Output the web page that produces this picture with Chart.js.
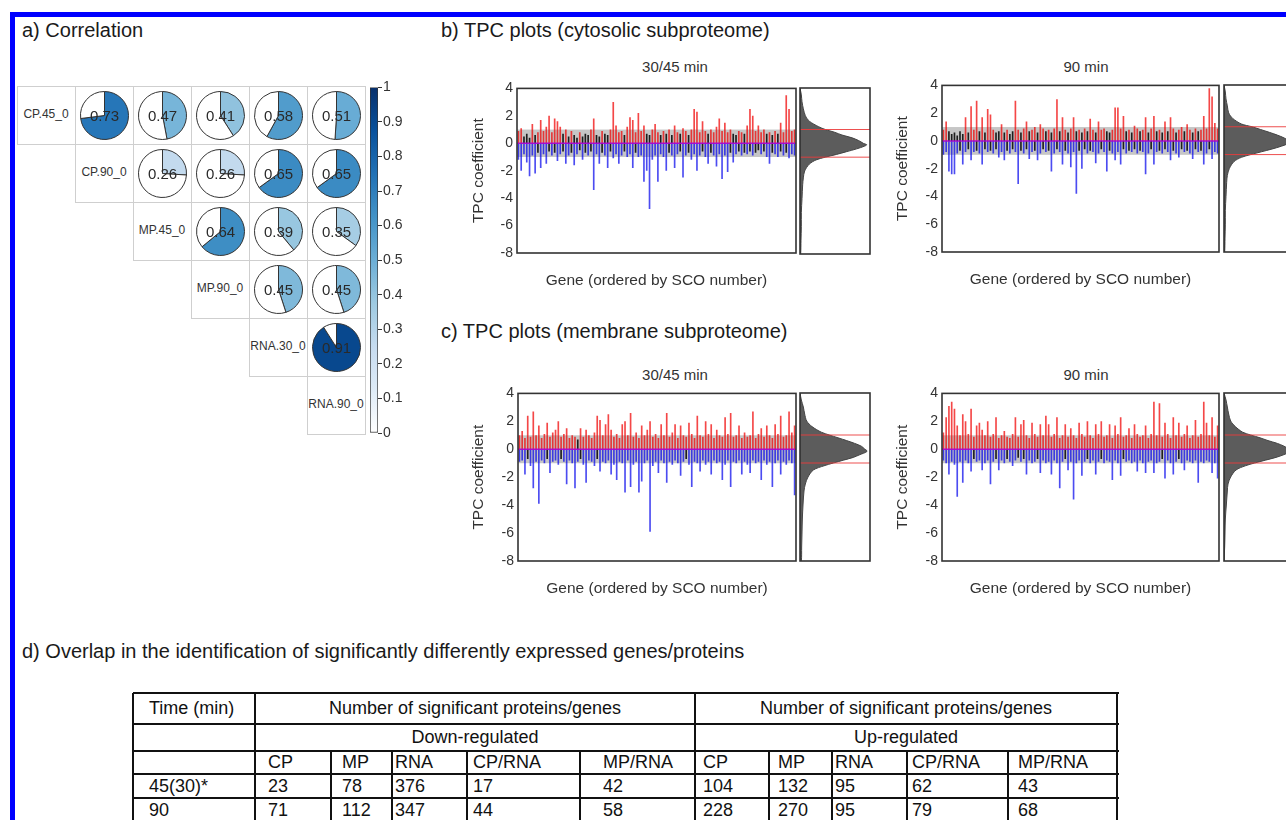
<!DOCTYPE html>
<html>
<head>
<meta charset="utf-8">
<script src="https://cdn.jsdelivr.net/npm/chart.js@4.4.1/dist/chart.umd.min.js"></script>
<style>
  html, body { margin: 0; padding: 0; background: #fff; }
  body { width: 1286px; height: 820px; overflow: hidden; position: relative;
         font-family: "Liberation Sans", Arial, sans-serif; color: #1a1a1a; }
  .frame { position: absolute; left: 10px; top: 12px; width: 1300px; height: 840px;
           border-top: 5px solid #0000ff; border-left: 5px solid #0000ff; }
  .ptitle { position: absolute; font-size: 20px; line-height: 20px; white-space: nowrap; }
  .sub { position: absolute; font-size: 15px; line-height: 16px; white-space: nowrap; color: #333;
         transform: translateX(-50%); }
  .cell { position: absolute; width: 59px; height: 59px; box-sizing: border-box; border: 1px solid #cfcfcf; }
  .diag { position: absolute; width: 58px; font-size: 12px; text-align: center; color: #333; white-space: nowrap; }
  .tl { position: absolute; background: #111; }
  .tt { position: absolute; font-size: 18px; white-space: nowrap; color: #111; }
  canvas { position: absolute; }
</style>
</head>
<body>
<div class="frame"></div>
<div class="ptitle" style="left:22px;top:20px">a) Correlation</div>
<div class="ptitle" style="left:441px;top:20px">b) TPC plots (cytosolic subproteome)</div>
<div class="ptitle" style="left:441px;top:321px">c) TPC plots (membrane subproteome)</div>
<div class="ptitle" style="left:22px;top:641px">d) Overlap in the identification of significantly differently expressed genes/proteins</div>

<script>
// ---- a) correlation matrix ----
const corrLabels = ["CP.45_0", "CP.90_0", "MP.45_0", "MP.90_0", "RNA.30_0", "RNA.90_0"];
const corrRows = [
  [0.73, 0.47, 0.41, 0.58, 0.51],
  [0.26, 0.26, 0.65, 0.65],
  [0.64, 0.39, 0.35],
  [0.45, 0.45],
  [0.91]
];
const colorbarStep = 0.1;

// ---- b) / c) TPC coefficients (one up and one down bar per gene block) ----
const cytoUp45 = [0.9,1.1,0.5,0.7,0.4,1.4,0.6,0.8,1.7,0.9, 1.2,2.0,0.8,1.8,1.6,1.2,0.7,1.0,0.5,0.9,
  0.6,0.4,0.8,0.5,0.7,0.6,1.0,1.8,0.6,0.5, 0.9,0.7,0.6,1.0,3.0,1.3,0.8,0.9,0.6,1.2,
  1.9,1.7,0.8,2.2,0.9,1.3,0.7,0.6,1.0,1.4, 0.8,0.6,0.9,0.7,1.0,0.6,1.3,0.8,0.7,1.1,
  0.9,0.6,1.0,2.5,2.3,0.8,1.6,0.9,0.7,1.0, 0.8,1.2,1.8,0.9,1.5,0.8,1.0,0.7,0.6,0.9,
  0.8,0.7,1.3,2.5,2.0,0.9,1.3,0.8,1.0,0.7, 0.8,0.6,0.9,0.7,1.5,0.8,3.5,2.5,0.9,1.0];
const cytoDown45 = [-1.2,-2.0,-0.8,-1.4,-2.4,-0.9,-2.2,-0.7,-1.8,-0.8, -1.5,-0.6,-0.9,-0.7,-1.3,-0.8,-0.6,-1.5,-0.9,-0.7,
  -1.6,-0.8,-0.5,-1.2,-0.7,-0.9,-0.6,-3.4,-0.8,-1.5, -0.7,-0.9,-1.8,-0.6,-1.1,-0.8,-1.5,-0.9,-0.6,-1.0,
  -0.8,-1.8,-0.7,-1.0,-0.9,-2.8,-2.0,-4.8,-1.2,-0.9, -2.8,-0.8,-1.0,-2.0,-0.7,-0.9,-1.8,-0.8,-0.6,-2.5,
  -0.9,-0.7,-1.2,-0.8,-2.0,-0.9,-0.6,-1.0,-1.5,-0.7, -0.9,-1.7,-0.8,-2.6,-0.9,-2.1,-0.7,-1.4,-0.8,-0.6,
  -0.9,-0.7,-0.8,-0.6,-0.9,-0.7,-0.5,-0.8,-0.6,-1.0, -1.5,-0.7,-0.8,-1.0,-0.6,-0.9,-0.7,-1.1,-0.8,-0.9];
const cytoUp90 = [0.8,1.4,0.7,0.5,0.6,0.4,0.7,0.5,1.7,0.6, 2.5,0.8,2.9,0.7,1.7,0.6,2.3,1.9,0.8,0.6,
  0.7,1.2,0.6,0.8,0.5,0.7,2.9,0.8,0.6,0.9, 1.4,0.7,0.8,1.0,0.6,1.2,0.9,0.7,0.8,0.6,
  0.9,3.0,0.7,1.7,0.8,0.6,0.9,1.7,0.7,0.8, 0.6,0.9,0.7,1.6,0.8,0.6,1.4,0.8,0.9,0.7,
  0.6,0.8,2.4,2.4,0.9,1.8,0.7,0.8,0.6,1.1, 0.9,0.7,0.8,1.7,0.6,0.9,1.8,0.7,0.8,0.6,
  1.4,0.7,1.7,0.9,0.6,0.8,1.0,0.7,1.2,0.8, 0.6,0.9,0.7,0.8,1.8,0.9,3.8,3.2,1.3,0.9];
const cytoDown90 = [-1.0,-0.8,-2.2,-2.4,-2.4,-0.9,-0.7,-1.7,-0.8,-0.6, -1.4,-0.8,-0.7,-0.9,-1.7,-0.6,-0.8,-0.7,-0.9,-0.6,
  -1.2,-0.8,-1.4,-0.7,-0.9,-0.6,-0.8,-3.1,-0.7,-0.9, -0.6,-1.3,-0.8,-0.7,-1.4,-0.9,-0.6,-0.8,-0.7,-2.2,
  -0.9,-0.6,-0.8,-1.7,-0.7,-0.9,-1.9,-0.8,-3.8,-0.7, -2.0,-0.6,-0.9,-0.7,-0.8,-1.6,-0.9,-0.6,-0.8,-2.2,
  -0.7,-0.9,-1.4,-0.8,-1.7,-0.6,-0.9,-0.7,-0.8,-0.6, -0.9,-0.7,-0.8,-2.4,-0.9,-0.6,-1.7,-0.8,-0.7,-0.9,
  -0.6,-0.8,-1.4,-0.7,-0.9,-1.2,-0.6,-0.8,-0.7,-0.9, -1.3,-0.6,-0.8,-0.7,-1.7,-0.9,-0.6,-1.3,-0.8,-0.9];
const membUp45 = [1.0,1.3,0.8,2.4,0.9,2.7,1.0,1.7,0.8,1.1, 1.9,0.9,1.2,1.4,2.0,0.9,1.1,1.5,0.8,1.0,
  0.9,0.7,1.5,0.9,1.4,1.0,0.8,1.2,2.4,2.1, 1.0,1.8,2.5,1.4,0.9,1.1,0.8,1.8,2.0,1.0,
  2.6,0.9,1.2,0.8,1.7,1.0,1.4,2.0,0.9,1.1, 0.8,1.8,1.0,2.6,0.9,1.2,1.8,0.8,1.7,1.0,
  0.9,1.9,1.1,0.8,2.4,1.0,0.9,2.0,1.1,1.8, 0.8,1.4,1.0,0.9,2.3,1.1,2.6,0.9,1.0,1.7,
  0.8,1.2,0.9,1.0,2.7,0.8,1.1,1.5,0.9,1.7, 1.0,0.8,1.8,1.1,2.4,0.9,1.0,2.7,1.2,1.7];
const membDown45 = [-0.9,-0.8,-1.8,-0.7,-1.2,-2.8,-0.9,-3.9,-0.8,-1.0, -0.7,-1.7,-0.9,-0.8,-1.1,-0.7,-0.9,-2.5,-0.8,-1.0,
  -2.8,-0.9,-0.7,-1.1,-2.4,-0.8,-0.9,-1.2,-0.7,-1.6, -0.9,-1.0,-0.8,-1.8,-1.1,-2.2,-0.9,-1.0,-3.1,-0.8,
  -2.7,-1.1,-0.9,-3.1,-2.3,-1.0,-0.8,-5.9,-1.2,-0.9, -1.7,-0.8,-1.0,-2.4,-0.9,-1.1,-0.8,-1.0,-1.9,-0.9,
  -0.7,-1.1,-2.7,-0.9,-1.0,-1.6,-0.8,-1.1,-0.9,-1.8, -0.8,-1.0,-0.9,-2.2,-1.1,-0.8,-2.7,-0.9,-1.0,-0.8,
  -1.8,-0.9,-1.1,-1.7,-0.8,-1.0,-0.9,-2.2,-0.8,-1.1, -0.9,-2.7,-1.0,-0.8,-1.8,-0.9,-1.1,-0.8,-1.0,-3.3];
const membUp90 = [1.2,2.3,3.1,3.4,2.9,1.7,1.0,2.5,2.0,1.1, 2.9,0.9,1.7,1.9,1.4,1.0,2.0,0.9,1.1,2.3,
  0.8,1.0,1.3,0.9,0.8,1.1,2.3,0.9,1.8,2.1, 1.0,0.8,1.9,1.1,0.9,1.8,1.0,2.4,1.8,0.9,
  1.1,2.3,0.8,1.0,1.8,0.9,1.5,1.0,0.8,1.9, 1.1,0.9,2.0,1.0,0.8,1.8,1.1,2.0,0.9,1.0,
  1.8,0.8,1.7,1.1,2.3,0.9,1.0,1.5,0.8,1.8, 1.1,0.9,1.0,1.7,0.8,1.1,3.4,1.0,3.3,0.9,
  1.9,1.1,0.8,2.3,1.0,1.9,0.9,1.1,1.7,0.8, 1.0,2.1,0.9,1.1,3.4,1.9,1.0,2.3,0.9,1.7];
const membDown90 = [-0.8,-1.0,-1.8,-0.9,-1.1,-3.4,-0.9,-2.4,-0.8,-1.0, -1.6,-0.7,-0.9,-0.8,-1.5,-1.0,-0.8,-2.5,-0.9,-0.7,
  -1.5,-0.8,-1.0,-0.7,-0.9,-1.2,-0.8,-0.6,-0.9,-0.7, -1.8,-0.8,-1.0,-0.9,-0.7,-1.7,-0.8,-1.0,-0.9,-1.8,
  -0.8,-1.0,-2.8,-0.9,-0.7,-1.5,-0.9,-3.6,-1.0,-0.8, -1.9,-0.9,-0.7,-1.0,-0.8,-1.8,-0.9,-0.7,-1.0,-0.8,
  -0.9,-2.2,-0.8,-1.0,-1.9,-0.7,-0.9,-0.8,-1.0,-0.9, -1.6,-0.8,-1.0,-1.7,-0.9,-0.8,-1.7,-1.0,-0.9,-0.7,
  -2.1,-0.8,-1.0,-1.8,-0.9,-0.7,-1.0,-1.5,-0.8,-0.9, -1.0,-0.8,-2.4,-0.9,-1.0,-0.8,-0.9,-1.7,-1.0,-2.1];

// density of the coefficients (side panels), read at these levels
const densityLevels = [4, 3.5, 3, 2.5, 2, 1.6, 1.2, 1, 0.8, 0.6, 0.4, 0.2, 0, -0.1, -0.2, -0.4, -0.6, -0.8, -1, -1.2, -1.5, -2, -2.5, -3, -4, -5, -6, -7, -8];
const cytoDens45 = [0, 0.02, 0.03, 0.05, 0.08, 0.14, 0.28, 0.38, 0.52, 0.63, 0.78, 0.88, 0.95, 1.0, 0.97, 0.85, 0.7, 0.55, 0.38, 0.24, 0.14, 0.07, 0.05, 0.04, 0.03, 0.02, 0.02, 0.015, 0.01];
const cytoDens90 = [0, 0.02, 0.03, 0.05, 0.07, 0.13, 0.26, 0.42, 0.55, 0.68, 0.8, 0.9, 0.97, 1.0, 0.97, 0.86, 0.72, 0.56, 0.4, 0.26, 0.15, 0.08, 0.05, 0.04, 0.03, 0.02, 0.02, 0.015, 0.01];
const membDens45 = [0, 0.02, 0.05, 0.07, 0.1, 0.18, 0.32, 0.44, 0.57, 0.7, 0.82, 0.92, 0.97, 1.0, 1.0, 0.9, 0.8, 0.65, 0.5, 0.36, 0.2, 0.12, 0.08, 0.06, 0.045, 0.035, 0.03, 0.025, 0.02];
const membDens90 = [0, 0.03, 0.05, 0.07, 0.1, 0.17, 0.28, 0.4, 0.54, 0.66, 0.8, 0.9, 0.97, 1.0, 0.99, 0.9, 0.78, 0.62, 0.46, 0.32, 0.18, 0.1, 0.06, 0.05, 0.035, 0.02, 0.015, 0.01, 0];
const tpcRange = [-8, 4];
const tpcStep = 2;
const sigLimit = 1;

// ---- d) table ----
const tableGroups = ["Number of significant proteins/genes", "Number of significant proteins/genes"];
const tableDirections = ["Down-regulated", "Up-regulated"];
const tableColumns = ["CP", "MP", "RNA", "CP/RNA", "MP/RNA"];
const tableTimes = ["45(30)*", "90"];
const tableDown = [[23, 78, 376, 17, 42], [71, 112, 347, 44, 58]];
const tableUp = [[104, 132, 95, 62, 43], [228, 270, 95, 79, 68]];

Chart.defaults.font.family = '"Liberation Sans", Arial, sans-serif';
Chart.defaults.color = "#333";

const bluesRamp = ["#F7FBFF", "#DEEBF7", "#C6DBEF", "#9ECAE1", "#6BAED6", "#4292C6", "#2171B5", "#08519C", "#08306B"];

function hexToRgb(h) {
  return [1, 3, 5].map((i) => parseInt(h.slice(i, i + 2), 16));
}

function rampColor(v) {
  const t = v * (bluesRamp.length - 1);
  const i = Math.min(Math.floor(t), bluesRamp.length - 2);
  const f = t - i;
  const a = hexToRgb(bluesRamp[i]);
  const b = hexToRgb(bluesRamp[i + 1]);
  const c = a.map((x, k) => Math.round(x + (b[k] - x) * f));
  return `rgb(${c[0]},${c[1]},${c[2]})`;
}

function addCanvas(left, top, w, h) {
  const c = document.createElement("canvas");
  c.width = w;
  c.height = h;
  c.style.left = left + "px";
  c.style.top = top + "px";
  c.style.width = w + "px";
  c.style.height = h + "px";
  document.body.appendChild(c);
  return c;
}

function addDiv(cls, left, top, text, extra) {
  const d = document.createElement("div");
  d.className = cls;
  d.style.left = left + "px";
  d.style.top = top + "px";
  if (text !== undefined) d.textContent = text;
  if (extra) Object.assign(d.style, extra);
  document.body.appendChild(d);
  return d;
}

const noChrome = { legend: { display: false }, tooltip: { enabled: false } };

// box around the plotting region
const framePlugin = {
  id: "frame",
  afterDraw(chart) {
    const { ctx, chartArea: a } = chart;
    ctx.save();
    ctx.strokeStyle = "#333";
    ctx.lineWidth = 1.6;
    ctx.strokeRect(a.left, a.top, a.right - a.left, a.bottom - a.top);
    ctx.restore();
  },
};

// grey band between -1 and 1, purple zero line
const bandPlugin = {
  id: "band",
  beforeDatasetsDraw(chart) {
    const { ctx, chartArea: a, scales: { y } } = chart;
    const y1 = y.getPixelForValue(sigLimit);
    const y0 = y.getPixelForValue(-sigLimit);
    ctx.save();
    ctx.fillStyle = "#c6c6c6";
    ctx.fillRect(a.left, y1, a.right - a.left, y0 - y1);
    ctx.restore();
  },
  afterDatasetsDraw(chart) {
    const { ctx, chartArea: a, scales: { y } } = chart;
    const yz = y.getPixelForValue(0);
    ctx.save();
    ctx.strokeStyle = "rgba(170,0,210,0.9)";
    ctx.lineWidth = 1.5;
    ctx.beginPath();
    ctx.moveTo(a.left, yz);
    ctx.lineTo(a.right, yz);
    ctx.stroke();
    ctx.restore();
  },
};

const pieLabelPlugin = {
  id: "pieLabel",
  afterDraw(chart) {
    const { ctx, chartArea: a } = chart;
    const v = chart.data.datasets[0].data[0];
    ctx.save();
    ctx.font = '15px "Liberation Sans", Arial, sans-serif';
    ctx.fillStyle = "#2a2a2a";
    ctx.textAlign = "center";
    ctx.textBaseline = "middle";
    ctx.fillText(v.toFixed(2), (a.left + a.right) / 2, (a.top + a.bottom) / 2 + 1);
    ctx.restore();
  },
};

// ---- a) correlation ----
const cellX0 = 17, cellY0 = 86, cellStep = 58;
corrLabels.forEach((label, i) => {
  for (let j = i; j < corrLabels.length; j++) {
    addDiv("cell", cellX0 + j * cellStep, cellY0 + i * cellStep);
  }
  addDiv("diag", cellX0 + i * cellStep, cellY0 + i * cellStep + 21, label);
});

corrRows.forEach((row, i) => {
  row.forEach((value, k) => {
    const j = i + 1 + k;
    const c = addCanvas(cellX0 + j * cellStep, cellY0 + i * cellStep, 59, 59);
    new Chart(c, {
      type: "pie",
      data: {
        labels: ["r", "rest"],
        datasets: [{
          data: [value, 1 - value],
          backgroundColor: [rampColor(value), "#ffffff"],
          borderColor: "#333",
          borderWidth: 1,
        }],
      },
      options: { responsive: false, animation: false, layout: { padding: 5 }, plugins: noChrome },
      plugins: [pieLabelPlugin],
    });
  });
});

// colour bar
{
  const c = addCanvas(360, 78, 52, 366);
  new Chart(c, {
    type: "bar",
    data: {
      labels: [""],
      datasets: [{
        data: [[0, 1]],
        backgroundColor: (context) => {
          const { ctx, chartArea } = context.chart;
          if (!chartArea) return "#6BAED6";
          const g = ctx.createLinearGradient(0, chartArea.bottom, 0, chartArea.top);
          bluesRamp.forEach((col, i) => g.addColorStop(i / (bluesRamp.length - 1), i === 0 ? "#ffffff" : col));
          return g;
        },
        borderColor: "#333",
        borderWidth: 1,
        borderSkipped: false,
        barPercentage: 1,
        categoryPercentage: 1,
      }],
    },
    options: {
      responsive: false,
      animation: false,
      layout: { padding: { top: 8, bottom: 11, left: 10, right: 0 } },
      plugins: noChrome,
      scales: {
        x: { display: false },
        y: {
          position: "right",
          min: 0,
          max: 1,
          afterFit(s) { s.width = 34; },
          border: { display: false },
          grid: { drawOnChartArea: false, drawTicks: true, tickLength: 4, color: "#333" },
          ticks: {
            stepSize: colorbarStep,
            padding: 1,
            font: { size: 14 },
            color: "#333",
            callback: (v) => String(Number(v.toFixed(1))),
          },
        },
      },
    },
  });
}

// ---- b) / c) TPC plots ----
const tpcPanels = [
  { up: cytoUp45, down: cytoDown45, dens: cytoDens45, title: "30/45 min", left: 465, area: [517, 88, 796, 253], box: [800, 88, 870, 254], tx: 675, ty: 59 },
  { up: cytoUp90, down: cytoDown90, dens: cytoDens90, title: "90 min", left: 889, area: [942, 85, 1219, 252], box: [1224, 85, 1294, 252], tx: 1086, ty: 59 },
  { up: membUp45, down: membDown45, dens: membDens45, title: "30/45 min", left: 465, area: [518, 393, 796, 561], box: [800, 393, 870, 561], tx: 675, ty: 367 },
  { up: membUp90, down: membDown90, dens: membDens90, title: "90 min", left: 889, area: [942, 393, 1219, 561], box: [1224, 393, 1294, 561], tx: 1086, ty: 367 },
];

const upColor = "rgba(240,0,0,0.72)";
const downColor = "rgba(0,0,235,0.7)";
const baseColor = "rgba(0,0,0,0.85)";
const colourFrom = 0.8; // bars shorter than this stay black
const tickHalf = 12.4;  // half tick-label height plus padding that Chart.js reserves above the y axis

tpcPanels.forEach((p) => {
  addDiv("sub", p.tx, p.ty, p.title);

  const [aL, aT, aR, aB] = p.area;
  const top = aT - tickHalf;
  const c = addCanvas(p.left, top, aR + 3 - p.left, aB + 41 - top);
  new Chart(c, {
    type: "bar",
    data: {
      labels: p.up.map((_, i) => i + 1),
      datasets: [
        { data: p.up, backgroundColor: (ctx) => (ctx.raw >= colourFrom ? upColor : baseColor), barPercentage: 0.6, categoryPercentage: 1 },
        { data: p.down, backgroundColor: (ctx) => (ctx.raw <= -colourFrom ? downColor : baseColor), barPercentage: 0.6, categoryPercentage: 1 },
      ],
    },
    options: {
      responsive: false,
      animation: false,
      layout: { padding: { top: 0, right: 3, left: 0, bottom: 0 } },
      plugins: noChrome,
      scales: {
        x: {
          stacked: true,
          grid: { display: false, drawTicks: false },
          border: { display: false },
          ticks: { display: false },
          title: { display: true, text: "Gene (ordered by SCO number)", font: { size: 15.5 }, color: "#333", padding: { top: 4, bottom: 4 } },
          afterFit(s) { s.height = 41; },
        },
        y: {
          stacked: true,
          min: tpcRange[0],
          max: tpcRange[1],
          grid: { display: false, drawTicks: false },
          border: { display: false },
          ticks: { stepSize: tpcStep, padding: 4, font: { size: 14 }, color: "#333" },
          title: { display: true, text: "TPC coefficient", font: { size: 15.5 }, color: "#333", padding: { top: 4, bottom: 4 } },
          afterFit(s) { s.width = aL - p.left; },
        },
      },
    },
    plugins: [bandPlugin, framePlugin],
  });

  // density side panel
  const [bL, bT, bR, bB] = p.box;
  const dc = addCanvas(bL - 2, bT - 2, bR - bL + 4, bB - bT + 4);
  const shape = densityLevels.map((lv, i) => ({ x: p.dens[i], y: lv }));
  shape.push({ x: 0, y: densityLevels[densityLevels.length - 1] }, { x: 0, y: densityLevels[0] });
  new Chart(dc, {
    type: "scatter",
    data: {
      datasets: [
        { data: [{ x: 0, y: sigLimit }, { x: 1.1, y: sigLimit }], showLine: true, borderColor: "rgba(235,60,60,0.9)", borderWidth: 1, pointRadius: 0, order: 0 },
        { data: [{ x: 0, y: -sigLimit }, { x: 1.1, y: -sigLimit }], showLine: true, borderColor: "rgba(235,60,60,0.9)", borderWidth: 1, pointRadius: 0, order: 0 },
        { data: shape, showLine: true, fill: "shape", backgroundColor: "#5c5c5c", borderColor: "#444", borderWidth: 1, pointRadius: 0, tension: 0.3, order: 1 },
      ],
    },
    options: {
      responsive: false,
      animation: false,
      layout: { padding: 2 },
      plugins: noChrome,
      scales: {
        x: { type: "linear", display: false, min: 0, max: 1.05 },
        y: { type: "linear", display: false, min: tpcRange[0], max: tpcRange[1] },
      },
    },
    plugins: [framePlugin],
  });
});

// ---- d) table ----
const colX = [133, 255, 331, 392, 467, 580, 695, 769, 832, 907, 1008, 1117];
const textX = [149, 268, 342, 395, 473, 603, 703, 778, 835, 912, 1018];
const rowY = [693, 724, 751, 774, 798, 822];

function hLine(x1, x2, y) { addDiv("tl", x1, y - 1, undefined, { width: (x2 - x1 + 2) + "px", height: "2px" }); }
function vLine(x, y1, y2) { addDiv("tl", x - 1, y1, undefined, { width: "2px", height: (y2 - y1 + 1) + "px" }); }

rowY.forEach((y) => hLine(colX[0], colX[colX.length - 1], y));
[0, 1, 6, 11].forEach((k) => vLine(colX[k], rowY[0], rowY[rowY.length - 1]));
[2, 3, 4, 5, 7, 8, 9, 10].forEach((k) => vLine(colX[k], rowY[2], rowY[rowY.length - 1]));

function cellText(text, x, r, center) {
  const h = rowY[r + 1] - rowY[r];
  addDiv("tt", x, rowY[r], text, { lineHeight: h + "px", transform: center ? "translateX(-50%)" : "none" });
}

cellText("Time (min)", textX[0], 0, false);
tableGroups.forEach((g, k) => cellText(g, (colX[1 + 5 * k] + colX[6 + 5 * k]) / 2, 0, true));
tableDirections.forEach((d, k) => cellText(d, (colX[1 + 5 * k] + colX[6 + 5 * k]) / 2, 1, true));
[0, 1].forEach((k) => tableColumns.forEach((name, j) => cellText(name, textX[1 + 5 * k + j], 2, false)));
tableTimes.forEach((t, r) => {
  cellText(t, textX[0], 3 + r, false);
  tableDown[r].forEach((v, j) => cellText(String(v), textX[1 + j], 3 + r, false));
  tableUp[r].forEach((v, j) => cellText(String(v), textX[6 + j], 3 + r, false));
});
</script>
</body>
</html>
